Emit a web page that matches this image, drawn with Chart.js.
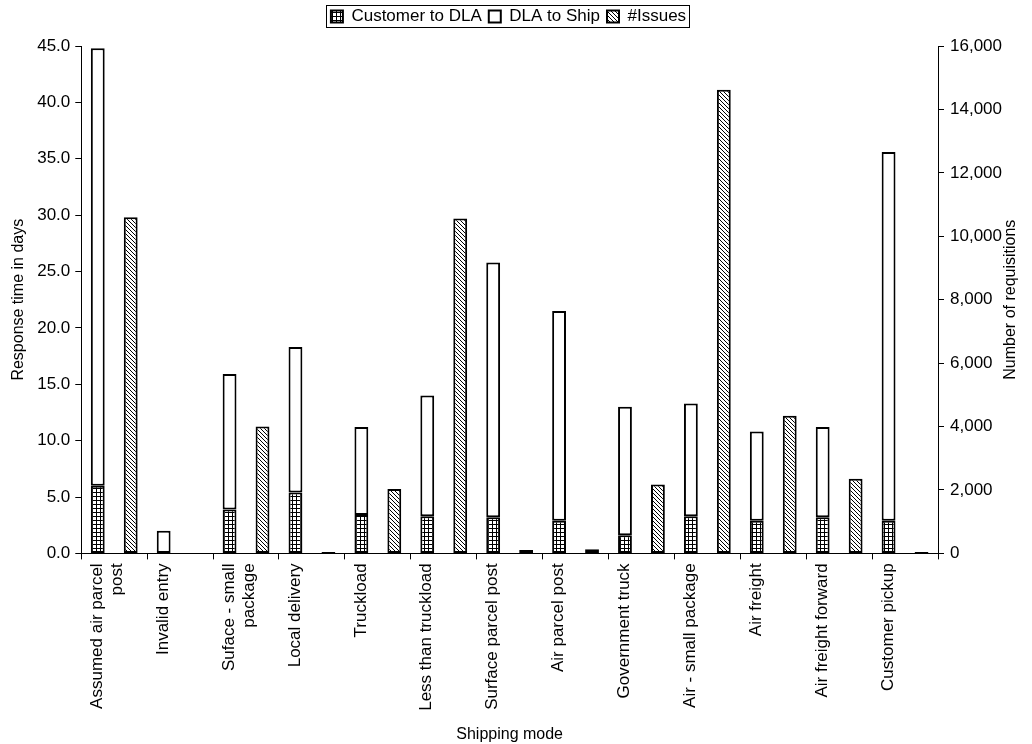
<!DOCTYPE html>
<html lang="en">
<head>
  <meta charset="UTF-8" />
  <title>Response time by shipping mode</title>
  <script src="https://cdn.jsdelivr.net/npm/chart.js"></script>
  <style>
    html, body { margin: 0; padding: 0; background: #fff; }
    .wrap { width: 1032px; height: 744px; }
  </style>
</head>
<body>
  <div class="wrap"><canvas id="chart" width="1032" height="744"></canvas></div>

  <script>
    // data
    const modes = [
      ["Assumed air parcel", "post"], "Invalid entry", ["Suface - small", "package"],
      "Local delivery", "Truckload", "Less than truckload", "Surface parcel post",
      "Air parcel post", "Government truck", "Air - small package", "Air freight",
      "Air freight forward", "Customer pickup"
    ];
    const customerToDla = [6.0, 0, 3.9, 5.4, 3.4, 3.3, 3.2, 2.9, 1.6, 3.3, 2.9, 3.2, 2.9];
    const dlaToShip     = [38.8, 2.0, 12.0, 12.9, 7.8, 10.7, 22.6, 18.6, 11.4, 10.0, 7.9, 8.0, 32.7];
    const issues        = [10600, 0, 4000, 40, 2030, 10560, 110, 130, 2170, 14620, 4340, 2350, 40];

    const leftTicks = [0, 5, 10, 15, 20, 25, 30, 35, 40, 45];
    const rightTicks = [0, 2000, 4000, 6000, 8000, 10000, 12000, 14000, 16000];

    const FONT = "'Liberation Sans', Arial, sans-serif";

    // fill patterns
    function gridPattern() {
      const c = document.createElement('canvas');
      c.width = 4; c.height = 4;
      const x = c.getContext('2d');
      x.fillStyle = '#fff'; x.fillRect(0, 0, 4, 4);
      x.fillStyle = '#000';
      x.fillRect(0, 0, 4, 1);
      x.fillRect(0, 0, 1, 4);
      return x.createPattern(c, 'repeat');
    }
    function hatchPattern() {
      const c = document.createElement('canvas');
      c.width = 4; c.height = 4;
      const x = c.getContext('2d');
      x.fillStyle = '#fff'; x.fillRect(0, 0, 4, 4);
      x.strokeStyle = '#000'; x.lineWidth = 1;
      x.beginPath();
      x.moveTo(-1, -1); x.lineTo(5, 5);
      x.moveTo(-1, 3); x.lineTo(1, 5);
      x.moveTo(3, -1); x.lineTo(5, 1);
      x.stroke();
      return x.createPattern(c, 'repeat');
    }

    // extra room under the legend
    const legendGap = {
      id: 'legendGap',
      beforeInit(chart) {
        const fit = chart.legend.fit;
        chart.legend.fit = function () {
          fit.bind(chart.legend)();
          this.height += 11;
        };
      }
    };

    // box round the legend, like the original
    const legendFrame = {
      id: 'legendFrame',
      afterDraw(chart) {
        const boxes = chart.legend.legendHitBoxes;
        if (!boxes || !boxes.length) return;
        let l = Infinity, r = -Infinity, t = Infinity, b = -Infinity;
        boxes.forEach(h => {
          l = Math.min(l, h.left); r = Math.max(r, h.left + h.width);
          t = Math.min(t, h.top); b = Math.max(b, h.top + h.height);
        });
        const ctx = chart.ctx;
        ctx.save();
        ctx.strokeStyle = '#000';
        ctx.lineWidth = 1;
        ctx.strokeRect(Math.round(l - 5) + 0.5, Math.round(t - 3) + 0.5, Math.round(r - l + 8), Math.round(b - t + 5));
        ctx.restore();
      }
    };

    // right axis title reading bottom-to-top
    const rightTitle = {
      id: 'rightTitle',
      afterDraw(chart) {
        const a = chart.chartArea;
        const ctx = chart.ctx;
        ctx.save();
        ctx.translate(1011, (a.top + a.bottom) / 2);
        ctx.rotate(-Math.PI / 2);
        ctx.font = '16px ' + FONT;
        ctx.fillStyle = '#000';
        ctx.textAlign = 'center';
        ctx.textBaseline = 'middle';
        ctx.fillText('Number of requisitions', 0, 0);
        ctx.restore();
      }
    };

    window.addEventListener('DOMContentLoaded', () => {
      Chart.defaults.font.family = FONT;
      Chart.defaults.font.size = 16;
      Chart.defaults.color = '#000';

      new Chart(document.getElementById('chart'), {
        type: 'bar',
        data: {
          labels: modes,
          datasets: [
            {
              label: 'Customer to DLA', data: customerToDla, stack: 'days', yAxisID: 'y',
              backgroundColor: gridPattern(), borderColor: '#000', borderWidth: 2, borderSkipped: false
            },
            {
              label: 'DLA to Ship', data: dlaToShip, stack: 'days', yAxisID: 'y',
              backgroundColor: '#fff', borderColor: '#000', borderWidth: 2, borderSkipped: false
            },
            {
              label: '#Issues', data: issues, stack: 'issues', yAxisID: 'y1',
              backgroundColor: hatchPattern(), borderColor: '#000', borderWidth: 2, borderSkipped: false
            }
          ]
        },
        options: {
          responsive: false,
          animation: false,
          layout: { padding: { left: 9, right: 24, top: 1, bottom: 0 } },
          datasets: { bar: { categoryPercentage: 1.0, barPercentage: 0.42 } },
          plugins: {
            legend: {
              position: 'top',
              labels: {
                boxWidth: 12, boxHeight: 12, padding: 7,
                font: { size: 17 }
              }
            },
            tooltip: { enabled: false }
          },
          scales: {
            x: {
              offset: true,
              grid: { offset: true, drawOnChartArea: false, drawTicks: true, tickLength: 6, color: '#000' },
              border: { color: '#000', width: 1 },
              ticks: { minRotation: 90, maxRotation: 90, autoSkip: false, labelOffset: -17, padding: 4, font: { size: 17 } },
              title: { display: true, text: 'Shipping mode', padding: { top: 10, bottom: 0 }, font: { size: 16 } }
            },
            y: {
              position: 'left',
              min: 0, max: 45,
              afterBuildTicks: s => { s.ticks = leftTicks.map(v => ({ value: v })); },
              ticks: { callback: v => Number(v).toFixed(1), padding: 5, font: { size: 17 } },
              grid: { drawOnChartArea: false, drawTicks: true, tickLength: 6, color: '#000' },
              border: { color: '#000', width: 1 },
              title: { display: true, text: 'Response time in days', padding: { top: 0, bottom: 4 }, font: { size: 16 } }
            },
            y1: {
              position: 'right',
              min: 0, max: 16000,
              afterBuildTicks: s => { s.ticks = rightTicks.map(v => ({ value: v })); },
              ticks: { callback: v => Number(v).toLocaleString('en-US'), padding: 6, font: { size: 17 } },
              grid: { drawOnChartArea: false, drawTicks: true, tickLength: 6, color: '#000' },
              border: { color: '#000', width: 1 }
            }
          }
        },
        plugins: [legendGap, legendFrame, rightTitle]
      });
    });
  </script>
</body>
</html>
